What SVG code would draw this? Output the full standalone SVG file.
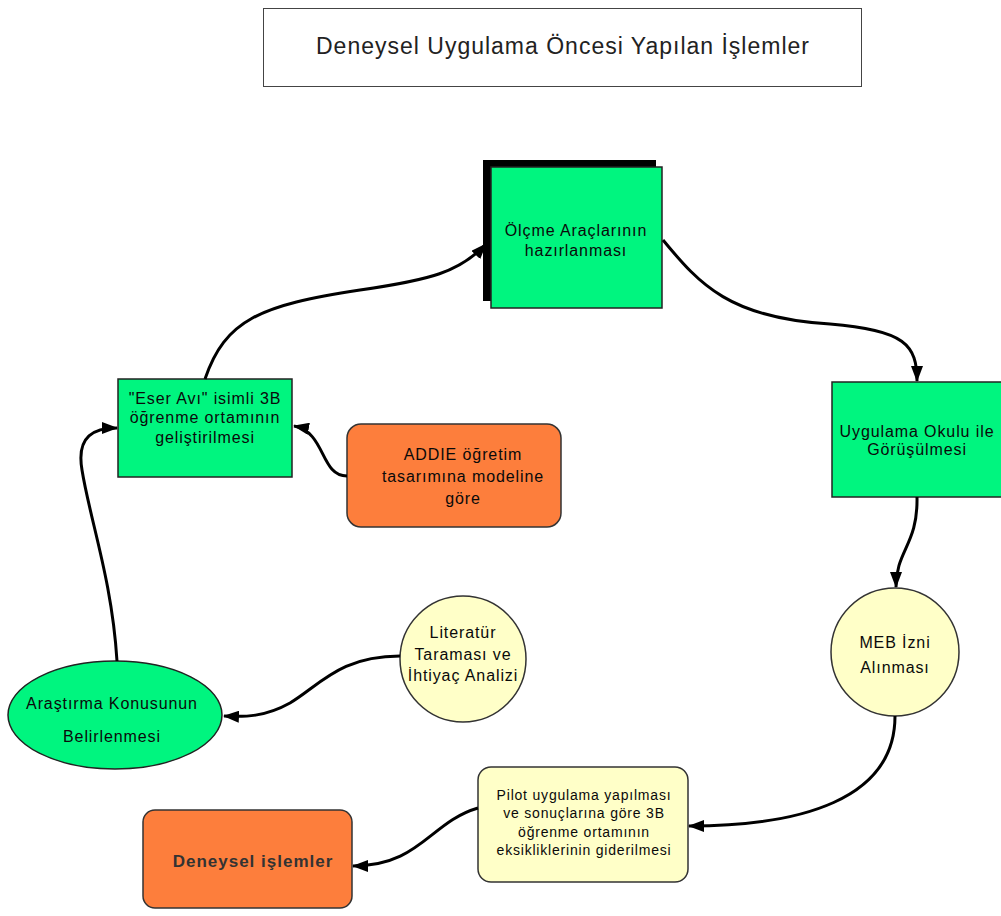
<svg xmlns="http://www.w3.org/2000/svg" width="1001" height="916" viewBox="0 0 1001 916">
<defs>
<marker id="ah" markerWidth="16" markerHeight="12" refX="15" refY="6" orient="auto" markerUnits="userSpaceOnUse">
<path d="M0,0 L16,6 L0,12 Z" fill="#000"/>
</marker>
<style>
text{font-family:"Liberation Sans",Arial,sans-serif;text-anchor:middle;fill:#0a0a0a;}
.g{fill:#00F57F;stroke:#222;stroke-width:1.5;}
.o{fill:#FD7E3C;stroke:#333;stroke-width:1.5;}
.y{fill:#FFFFC8;stroke:#333;stroke-width:1.5;}
.t{font-size:16px;letter-spacing:0.9px;}
.s{font-size:14px;letter-spacing:0.8px;}
.c path{fill:none;stroke:#000;stroke-width:3;marker-end:url(#ah);}
</style>
</defs>
<rect width="1001" height="916" fill="#fff"/>
<g id="title">
<rect x="263.5" y="8.5" width="598" height="78" fill="#fff" stroke="#444" stroke-width="1"/>
<text x="563" y="54" style="font-size:23px;letter-spacing:1px;fill:#222">Deneysel Uygulama Öncesi Yapılan İşlemler</text>
</g>
<g id="olcme">
<rect x="483" y="160" width="173" height="141" fill="#000"/>
<rect class="g" x="491" y="167" width="171" height="141"/>
<text class="t" x="576" y="236">Ölçme Araçlarının</text>
<text class="t" x="576" y="256">hazırlanması</text>
</g>
<g id="eser">
<rect class="g" x="118" y="379" width="174" height="98"/>
<text class="t" x="205" y="404">"Eser Avı" isimli 3B</text>
<text class="t" x="205" y="423">öğrenme ortamının</text>
<text class="t" x="205" y="443">geliştirilmesi</text>
</g>
<g id="addie">
<rect class="o" x="347" y="424" width="214" height="103" rx="14"/>
<text class="t" x="463" y="460">ADDIE öğretim</text>
<text class="t" x="463" y="482">tasarımına modeline</text>
<text class="t" x="463" y="504">göre</text>
</g>
<g id="okul">
<rect class="g" x="832" y="382" width="172" height="115"/>
<text class="t" x="917" y="437">Uygulama Okulu ile</text>
<text class="t" x="917" y="455">Görüşülmesi</text>
</g>
<g id="meb">
<circle class="y" cx="895" cy="652" r="64"/>
<text class="t" x="895" y="648">MEB İzni</text>
<text class="t" x="895" y="673">Alınması</text>
</g>
<g id="literatur">
<circle class="y" cx="463" cy="659" r="63"/>
<text class="t" x="463" y="638">Literatür</text>
<text class="t" x="463" y="660">Taraması ve</text>
<text class="t" x="463" y="681">İhtiyaç Analizi</text>
</g>
<g id="arastirma">
<ellipse class="g" cx="115" cy="715" rx="107" ry="54"/>
<text class="t" x="112" y="709">Araştırma Konusunun</text>
<text class="t" x="112" y="742">Belirlenmesi</text>
</g>
<g id="pilot">
<rect class="y" x="478" y="767" width="210" height="115" rx="13"/>
<text class="s" x="584" y="800">Pilot uygulama yapılması</text>
<text class="s" x="584" y="818">ve sonuçlarına göre 3B</text>
<text class="s" x="584" y="837">öğrenme ortamının</text>
<text class="s" x="584" y="855">eksikliklerinin giderilmesi</text>
</g>
<g id="deneysel">
<rect class="o" x="143" y="810" width="209" height="98" rx="12"/>
<text x="253" y="867" style="font-size:17px;letter-spacing:1px;font-weight:bold;fill:#333">Deneysel işlemler</text>
</g>
<g id="connectors" class="c">
<path d="M117,661 C112,580 90,520 82,470 C76,435 95,428 117,428"/>
<path d="M400,656 C340,656 320,685 290,703 C265,717 245,717 224,716"/>
<path d="M347,476 C320,476 326,432 294,426"/>
<path d="M205,379 C225,320 260,305 360,290 C430,280 460,272 486,244"/>
<path d="M663,240 C700,285 730,318 830,324 C905,330 917,345 917,381"/>
<path d="M917,497 C918,545 896,550 896,587"/>
<path d="M895,716 C895,800 800,826 689,826"/>
<path d="M478,808 C430,822 420,866 353,866"/>
</g>
</svg>
